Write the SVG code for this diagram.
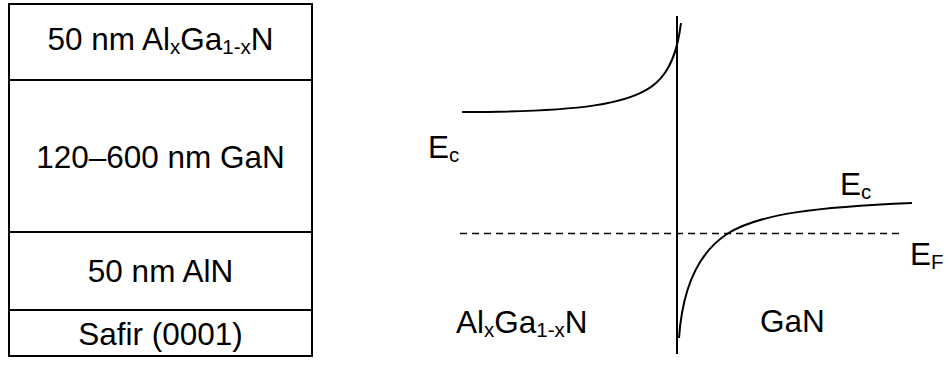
<svg xmlns="http://www.w3.org/2000/svg" width="949" height="367" viewBox="0 0 949 367">
<style>
text{font-family:"Liberation Sans",Arial,sans-serif;font-size:31.5px;fill:#000}
.sub{font-size:20.5px}
.c{text-anchor:middle}
.ln{fill:none;stroke:#000;stroke-width:2}
.dash{fill:none;stroke:#000;stroke-width:1.6;stroke-dasharray:7 5}
</style>
<rect width="949" height="367" fill="#fff"/>
<g id="layers">
<g id="layer-algan">
<rect x="9" y="4" width="303" height="76" class="ln"/>
<text x="160.5" y="49.5" class="c">50 nm Al<tspan class="sub" dy="4">x</tspan><tspan dy="-4">Ga</tspan><tspan class="sub" dy="4">1-x</tspan><tspan dy="-4">N</tspan></text>
</g>
<g id="layer-gan">
<rect x="9" y="80" width="303" height="152" class="ln"/>
<text x="160.5" y="168" class="c">120–600 nm GaN</text>
</g>
<g id="layer-aln">
<rect x="9" y="232" width="303" height="78" class="ln"/>
<text x="160.5" y="282" class="c">50 nm AlN</text>
</g>
<g id="layer-safir">
<rect x="9" y="310" width="303" height="46" class="ln"/>
<text x="160.5" y="345" class="c">Safir (0001)</text>
</g>
</g>
<g id="band-diagram">
<line x1="677" y1="16" x2="677" y2="354" class="ln"/>
<path d="M462,112 C580,112 633,104 656,83 C672,69 678,47 681,23" class="ln"/>
<path d="M679,338 C682,295 695,255 727,234 C760,213 820,207 912,203" class="ln"/>
<line x1="460" y1="233.5" x2="903" y2="233.5" class="dash"/>
<text x="428" y="158">E<tspan class="sub" dy="3.5">c</tspan></text>
<text x="840" y="195">E<tspan class="sub" dy="3.5">c</tspan></text>
<text x="910" y="265">E<tspan class="sub" dy="4">F</tspan></text>
<text x="456" y="332.5">Al<tspan class="sub" dy="4">x</tspan><tspan dy="-4">Ga</tspan><tspan class="sub" dy="4">1-x</tspan><tspan dy="-4">N</tspan></text>
<text x="760" y="331.5">GaN</text>
</g>
</svg>
